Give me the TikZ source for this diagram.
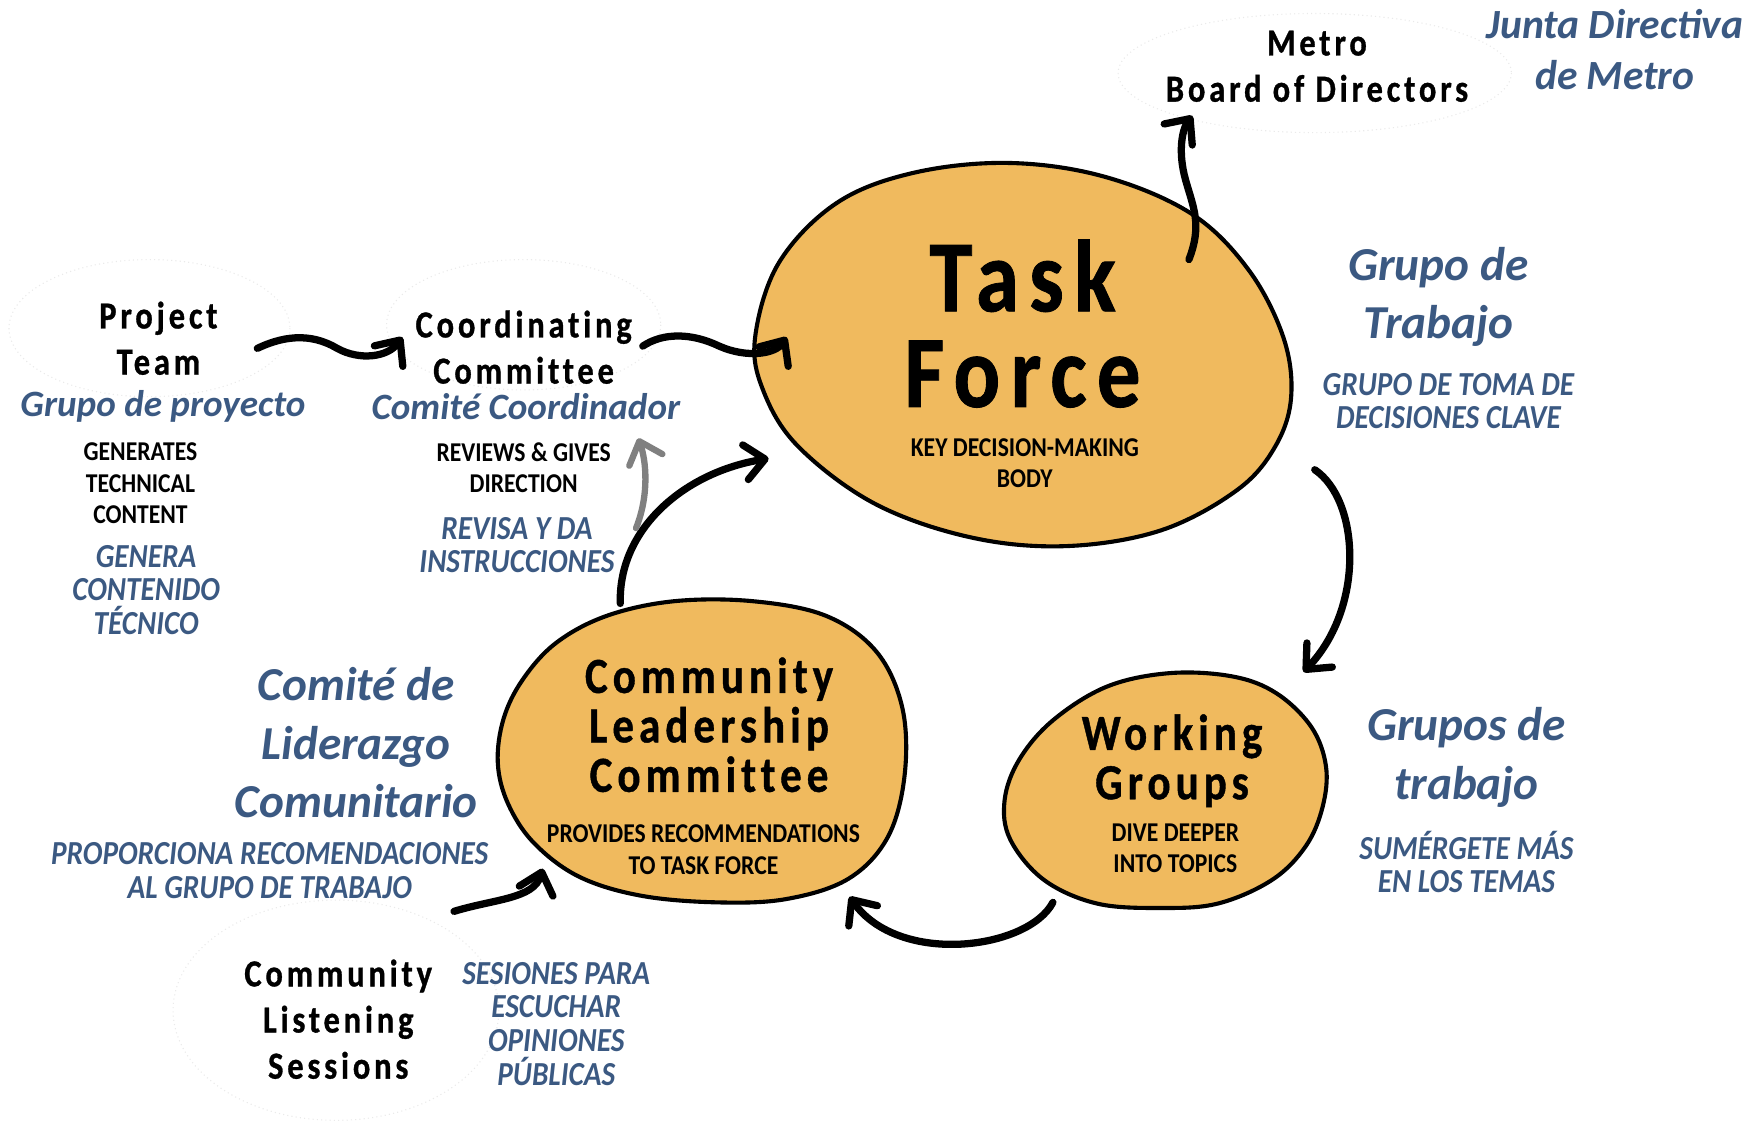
\documentclass[tikz,border=0pt]{standalone}
\usepackage{fontspec}
\setmainfont{Carlito}
\newfontfamily\headfont[LetterSpace=10,FakeStretch=0.85,FakeBold=0.8,Ligatures=NoCommon]{Carlito}
\newfontfamily\capfont[FakeStretch=0.87]{Carlito}
\usetikzlibrary{arrows.meta, positioning, calc}
\definecolor{blobgold}{RGB}{240,186,94}
\definecolor{esblue}{RGB}{59,89,130}
\definecolor{faintline}{RGB}{234,234,234}
\tikzset{
  % Orange blobs
  blob/.style={draw=black, line width=2.6pt, fill=blobgold},
  % Faint rings round the outside groups
  ring/.style={draw=faintline, line width=0.7pt, dotted},
  % Black titles
  tftitle/.style={align=center, inner sep=0pt, font=\headfont\bfseries\fontsize{64.7pt}{60.5pt}\selectfont},
  blobtitle/.style={align=center, inner sep=0pt, font=\headfont\bfseries\fontsize{32pt}{31.3pt}\selectfont},
  grouptitle/.style={align=center, inner sep=0pt, font=\headfont\bfseries\fontsize{24.2pt}{29.2pt}\selectfont},
  blackcaps/.style={align=center, inner sep=0pt, font=\capfont\bfseries\fontsize{17.2pt}{19.9pt}\selectfont},
  % Spanish labels
  bluebig/.style={align=center, inner sep=0pt, text=esblue, font=\bfseries\itshape\fontsize{29.9pt}{37pt}\selectfont},
  bluemid/.style={align=center, inner sep=0pt, text=esblue, font=\bfseries\itshape\fontsize{23.5pt}{28pt}\selectfont},
  bluecaps/.style={align=center, inner sep=0pt, text=esblue, font=\capfont\bfseries\itshape\fontsize{21.3pt}{21.3pt}\selectfont},
  % Brush arrows
  brush/.style={-{Straight Barb[length=4.4mm, width=7.8mm, round]}, line width=4.6pt, line cap=round, black},
  greybrush/.style={brush, black!50, line width=4pt}
}

\begin{document}
\begin{tikzpicture}[x=0.25mm, y=-0.25mm]
  \useasboundingbox (0,0) rectangle (1568,1000);

  % Faint rings
  \draw[ring] (133,292) ellipse [x radius=125, y radius=61];
  \draw[ring] (466,289) ellipse [x radius=122, y radius=58];
  \draw[ring] (1170,65) ellipse [x radius=175, y radius=53];
  \draw[ring] (299,899) ellipse [x radius=145, y radius=98];

  % Blobs
  \draw[blob] plot[smooth cycle, tension=0.6] coordinates {
    (672,300) (693,234) (744,181) (812,154) (897,145) (982,157) (1060,190)
    (1111,240) (1142,300) (1149,353) (1135,397) (1101,436) (1033,472)
    (948,486) (863,478) (778,448) (710,397) (679,347)};
  \draw[blob] plot[smooth cycle, tension=0.6] coordinates {
    (443,679) (448,640) (465,605) (495,572) (540,548) (600,535) (670,535)
    (735,548) (780,580) (803,630) (805,690) (790,745) (755,782) (700,800)
    (638,803) (570,797) (515,780) (475,750) (452,715)};
  \draw[blob] plot[smooth cycle, tension=0.6] coordinates {
    (1041,599) (1097,602) (1136,617) (1167,647) (1180,682) (1177,718)
    (1162,753) (1132,783) (1084,804) (1033,808) (976,804) (929,783)
    (899,747) (894,712) (907,676) (937,641) (985,611)};

  % Task Force
  \node[tftitle] (tf) at (910,288) {Task\\Force};
  \node[blackcaps] (tfsub) at (912,412) {KEY DECISION-MAKING\\BODY};
  \node[bluebig] (tfes) at (1280,264) {Grupo de\\Trabajo};
  \node[bluecaps] (tfsubes) at (1289,357) {GRUPO DE TOMA DE\\DECISIONES CLAVE};

  % Metro board
  \node[grouptitle] (metro) at (1172,59) {Metro\\Board of Directors};
  \node[bluebig, font=\bfseries\itshape\fontsize{26.3pt}{32pt}\selectfont] (junta) at (1437,44) {Junta Directiva\\de Metro};

  % Project team
  \node[grouptitle] (pt) at (141,301) {Project\\Team};
  \node[bluemid] (ptes) at (145,362) {Grupo de proyecto};
  \node[blackcaps] (ptsub) at (125,430) {GENERATES\\TECHNICAL\\CONTENT};
  \node[bluecaps] (ptsubes) at (130,525) {GENERA\\CONTENIDO\\TÉCNICO};

  % Coordinating committee
  \node[grouptitle] (cc) at (466,309) {Coordinating\\Committee};
  \node[bluemid] (cces) at (468,362) {Comité Coordinador};
  \node[blackcaps] (ccsub) at (466,416) {REVIEWS \& GIVES\\DIRECTION};
  \node[bluecaps] (ccsubes) at (460,485) {REVISA Y DA\\INSTRUCCIONES};

  % Community leadership committee
  \node[blobtitle] (clc) at (631,645) {Community\\Leadership\\Committee};
  \node[blackcaps] (clcsub) at (626,756) {PROVIDES RECOMMENDATIONS\\TO TASK FORCE};
  \node[bluebig] (clces) at (317,661) {Comité de\\Liderazgo\\Comunitario};
  \node[bluecaps] (clcsubes) at (240,775) {PROPORCIONA RECOMENDACIONES\\AL GRUPO DE TRABAJO};

  % Working groups
  \node[blobtitle] (wg) at (1043,677) {Working\\Groups};
  \node[blackcaps] (wgsub) at (1046,755) {DIVE DEEPER\\INTO TOPICS};
  \node[bluebig] (wges) at (1305,674) {Grupos de\\trabajo};
  \node[bluecaps] (wgsubes) at (1305,767) {SUMÉRGETE MÁS\\EN LOS TEMAS};

  % Listening sessions
  \node[grouptitle] (cls) at (301,907) {Community\\Listening\\Sessions};
  \node[bluecaps] (clses) at (495,911) {SESIONES PARA\\ESCUCHAR\\OPINIONES\\PÚBLICAS};

  % Arrow ends
  \coordinate (pt-out) at (229,310);
  \coordinate (cc-in) at (358,300);
  \coordinate (cc-out) at (572,308);
  \coordinate (tf-in) at (700,300);
  \coordinate (clc-out) at (552,537);
  \coordinate (tf-in2) at (684,408);
  \coordinate (fb-start) at (566,470);
  \coordinate (cc-in2) at (568,390);
  \coordinate (tf-out) at (1058,231);
  \coordinate (metro-in) at (1061,103);
  \coordinate (tf-out2) at (1170,418);
  \coordinate (wg-in) at (1160,598);
  \coordinate (wg-out) at (937,803);
  \coordinate (clc-in) at (756,798);
  \coordinate (cls-out) at (404,811);
  \coordinate (clc-in2) at (483,773);

  % Arrows
  \draw[brush] (pt-out) .. controls (250,300) and (275,295) .. (300,310)
    .. controls (320,321) and (345,318) .. (cc-in);
  \draw[brush] (cc-out) .. controls (590,296) and (615,296) .. (640,308)
    .. controls (665,319) and (690,315) .. (tf-in);
  \draw[brush] (clc-out) .. controls (550,470) and (610,420) .. (tf-in2);
  \draw[greybrush] (fb-start) .. controls (578,440) and (575,410) .. (cc-in2);
  \draw[brush] (tf-out) .. controls (1070,200) and (1062,185) .. (1055,160)
    .. controls (1048,135) and (1052,115) .. (metro-in);
  \draw[brush] (tf-out2) .. controls (1210,445) and (1215,540) .. (wg-in);
  \draw[brush] (wg-out) .. controls (915,845) and (800,860) .. (clc-in);
  \draw[brush] (cls-out) .. controls (440,800) and (475,800) .. (clc-in2);
\end{tikzpicture}
\end{document}
